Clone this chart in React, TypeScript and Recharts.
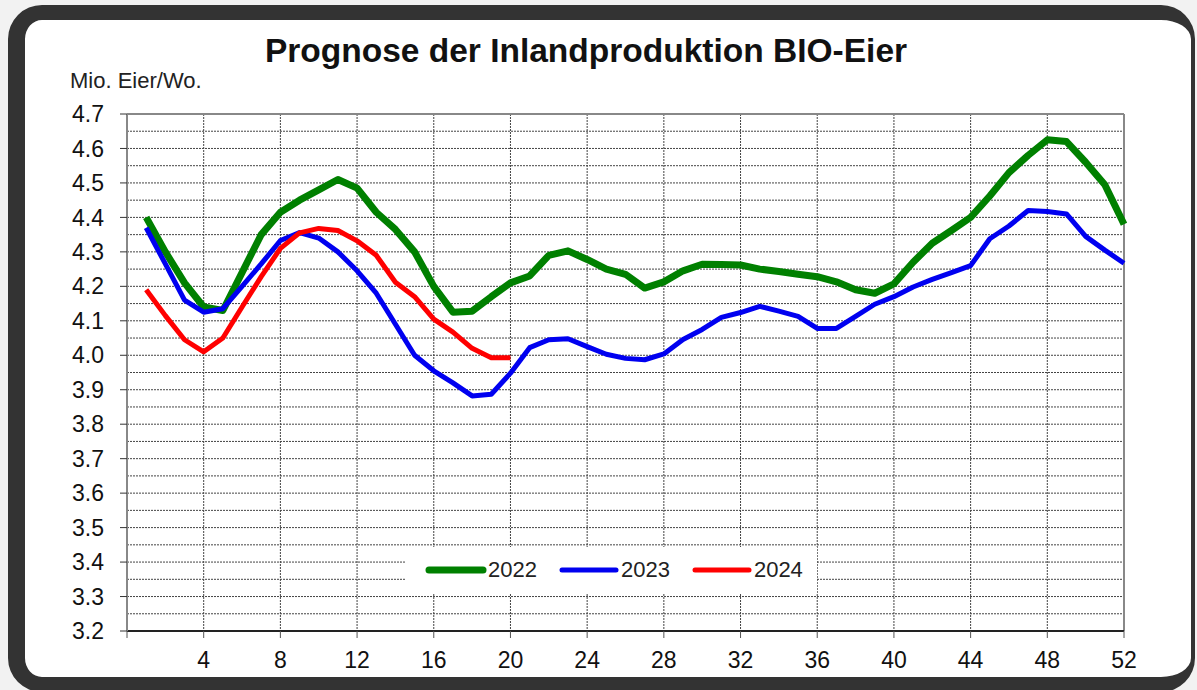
import React from 'react';
import { LineChart, Line, XAxis, YAxis, CartesianGrid, ReferenceLine } from 'recharts';

const weeks = [
  1, 2, 3, 4, 5, 6, 7, 8, 9, 10, 11, 12, 13, 14, 15, 16, 17, 18, 19, 20, 21, 22, 23, 24, 25, 26,
  27, 28, 29, 30, 31, 32, 33, 34, 35, 36, 37, 38, 39, 40, 41, 42, 43, 44, 45, 46, 47, 48, 49, 50, 51, 52,
];

const eggs2022 = [
  4.40, 4.30, 4.21, 4.14, 4.13, 4.24, 4.35, 4.415, 4.45, 4.48, 4.51, 4.485, 4.415, 4.365, 4.30, 4.20,
  4.125, 4.128, 4.17, 4.21, 4.23, 4.29, 4.303, 4.278, 4.25, 4.235, 4.195, 4.213, 4.245, 4.264, 4.263,
  4.262, 4.25, 4.243, 4.235, 4.228, 4.213, 4.19, 4.18, 4.207, 4.27, 4.325, 4.362, 4.40, 4.462, 4.53,
  4.58, 4.625, 4.62, 4.56, 4.495, 4.38,
];

const eggs2023 = [
  4.37, 4.265, 4.16, 4.125, 4.135, 4.20, 4.265, 4.333, 4.356, 4.34, 4.30, 4.245, 4.18, 4.09, 4.0, 3.955,
  3.92, 3.882, 3.887, 3.948, 4.022, 4.045, 4.048, 4.025, 4.003, 3.991, 3.987, 4.004, 4.046, 4.075, 4.11,
  4.124, 4.142, 4.128, 4.113, 4.078, 4.078, 4.113, 4.148, 4.17, 4.198, 4.22, 4.24, 4.26, 4.338, 4.375,
  4.42, 4.417, 4.41, 4.345, 4.305, 4.267,
];

// 2024 only runs to week 20
const eggs2024 = [
  4.19, 4.115, 4.045, 4.01, 4.05, 4.14, 4.228, 4.31, 4.355, 4.368, 4.362, 4.332, 4.29, 4.212, 4.17,
  4.105, 4.067, 4.02, 3.993, 3.993,
];

const xTicks = [0, 4, 8, 12, 16, 20, 24, 28, 32, 36, 40, 44, 48, 52];
const yTicks = [3.2, 3.3, 3.4, 3.5, 3.6, 3.7, 3.8, 3.9, 4.0, 4.1, 4.2, 4.3, 4.4, 4.5, 4.6, 4.7];
const gridY = [
  3.25, 3.3, 3.35, 3.4, 3.45, 3.5, 3.55, 3.6, 3.65, 3.7, 3.75, 3.8, 3.85, 3.9, 3.95, 4.0, 4.05, 4.1,
  4.15, 4.2, 4.25, 4.3, 4.35, 4.4, 4.45, 4.5, 4.55, 4.6, 4.65,
];
const gridX = [4, 8, 12, 16, 20, 24, 28, 32, 36, 40, 44, 48];

const series = [
  { key: 'y2022', name: '2022', color: '#008000', width: 7 },
  { key: 'y2023', name: '2023', color: '#0000f0', width: 5 },
  { key: 'y2024', name: '2024', color: '#ff0000', width: 5 },
];

const data = weeks.map((w, i) => ({
  week: w,
  y2022: eggs2022[i],
  y2023: eggs2023[i],
  y2024: i < eggs2024.length ? eggs2024[i] : null,
}));

const FONT = "'Liberation Sans', Arial, sans-serif";

export default function App() {
  return (
    <div
      style={{
        position: 'fixed',
        left: 0,
        top: 0,
        width: 1197,
        height: 690,
        background: '#f2f2f2',
        overflow: 'hidden',
        fontFamily: FONT,
      }}
    >
      <div
        style={{
          position: 'absolute',
          left: 8,
          top: 5,
          width: 1187,
          height: 687,
          boxSizing: 'border-box',
          background: '#fff',
          borderStyle: 'solid',
          borderColor: '#333',
          borderWidth: '15px 4px 15px 17px',
          borderRadius: 34,
        }}
      />
      <div
        style={{
          position: 'absolute',
          left: 0,
          width: 1172,
          top: 34,
          textAlign: 'center',
          fontSize: 33.5,
          fontWeight: 'bold',
          lineHeight: 1,
          color: '#111',
        }}
      >
        Prognose der Inlandproduktion BIO-Eier
      </div>
      <div style={{ position: 'absolute', left: 70, top: 70, fontSize: 22, lineHeight: 1, color: '#222' }}>
        Mio. Eier/Wo.
      </div>

      <div style={{ position: 'absolute', left: 0, top: 0 }}>
        <LineChart width={1197} height={690} data={data} margin={{ top: 114, right: 73, bottom: 19, left: 0 }}>
          <CartesianGrid
            horizontalValues={gridY}
            verticalValues={gridX}
            stroke="#444"
            strokeDasharray="2 1"
            strokeWidth={1}
          />
          <ReferenceLine y={4.7} stroke="#888" strokeWidth={2} />
          <ReferenceLine x={52} stroke="#888" strokeWidth={2} />
          <XAxis
            dataKey="week"
            type="number"
            domain={[0, 52]}
            ticks={xTicks}
            interval={0}
            height={40}
            tickFormatter={(v) => (v === 0 ? '' : String(v))}
            tick={{ fontSize: 23, fill: '#111', fontFamily: FONT }}
            tickSize={7}
            tickMargin={14}
            tickLine={{ stroke: '#555' }}
            axisLine={{ stroke: '#222', strokeWidth: 2 }}
          />
          <YAxis
            type="number"
            domain={[3.2, 4.7]}
            ticks={yTicks}
            interval={0}
            width={127}
            tickFormatter={(v) => Number(v).toFixed(1)}
            tick={{ fontSize: 23, fill: '#111', fontFamily: FONT }}
            tickSize={7}
            tickMargin={16}
            tickLine={{ stroke: '#333' }}
            axisLine={{ stroke: '#888', strokeWidth: 2 }}
          />
          {series.map((s) => (
            <Line
              key={s.key}
              dataKey={s.key}
              name={s.name}
              stroke={s.color}
              strokeWidth={s.width}
              strokeLinejoin="round"
              dot={false}
              activeDot={false}
              connectNulls={false}
              isAnimationActive={false}
            />
          ))}
        </LineChart>
      </div>

      <div
        style={{
          position: 'absolute',
          left: 405,
          top: 547,
          width: 412,
          height: 46,
          background: '#fff',
          display: 'flex',
          alignItems: 'center',
          paddingLeft: 20,
          boxSizing: 'border-box',
          gap: 21,
        }}
      >
        {series.map((s) => (
          <div key={s.key} style={{ display: 'flex', alignItems: 'center' }}>
            <svg width={62} height={12}>
              <line
                x1={4}
                x2={58}
                y1={6}
                y2={6}
                stroke={s.color}
                strokeWidth={s.width}
                strokeLinecap="round"
              />
            </svg>
            <span style={{ fontSize: 22, color: '#222', marginLeft: 1 }}>{s.name}</span>
          </div>
        ))}
      </div>
    </div>
  );
}
